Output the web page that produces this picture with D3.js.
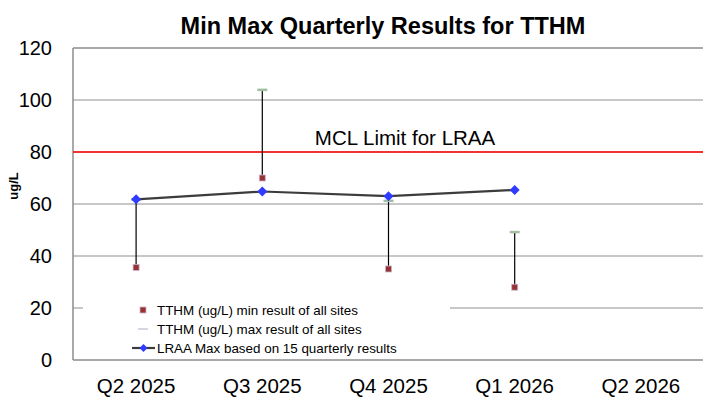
<!DOCTYPE html>
<html>
<head>
<meta charset="UTF-8">
<script src="https://cdn.jsdelivr.net/npm/d3@7.8.5/dist/d3.min.js"></script>
<style>
  * { margin: 0; padding: 0; }
  body { background: #fff; font-family: 'Liberation Sans', Arial, sans-serif; }
</style>
</head>
<body>
<div id="chart"></div>
<script>
// data
const quarters = ["Q2 2025", "Q3 2025", "Q4 2025", "Q1 2026", "Q2 2026"];
const minVals = [35.6, 70, 35, 28];
const maxVals = [61.8, 104, 61.3, 49.3];
const lraa = [61.8, 64.8, 63, 65.4];
const yTicks = [0, 20, 40, 60, 80, 100, 120];
const mcl = 80;

const width = 703, height = 400;
const margin = { top: 48, right: -1, bottom: 40, left: 73 };

const svg = d3.select('#chart').append('svg')
  .attr('width', width).attr('height', height);

const x = d3.scaleBand().domain(quarters)
  .range([margin.left, width - margin.right]);
const y = d3.scaleLinear().domain([0, 120])
  .range([height - margin.bottom, margin.top]);

// gridlines
svg.append('g').selectAll('line').data(yTicks.filter(d => d > 0))
  .enter().append('line')
  .attr('x1', margin.left).attr('x2', width - margin.right)
  .attr('y1', d => y(d)).attr('y2', d => y(d))
  .attr('stroke', d => d === 120 ? '#8c8c8c' : '#b4b4b4')
  .attr('stroke-width', 1.5);

// axes frame
svg.append('line')
  .attr('x1', margin.left).attr('x2', margin.left)
  .attr('y1', y(120)).attr('y2', y(0))
  .attr('stroke', '#8c8c8c').attr('stroke-width', 1.5);
svg.append('line')
  .attr('x1', margin.left).attr('x2', width)
  .attr('y1', y(0)).attr('y2', y(0))
  .attr('stroke', '#8c8c8c').attr('stroke-width', 1.5);

// y tick labels
svg.append('g').selectAll('text').data(yTicks).enter().append('text')
  .attr('x', 52).attr('y', d => y(d))
  .attr('text-anchor', 'end').attr('dominant-baseline', 'central')
  .style('font-size', '20px').style('fill', '#000')
  .text(d => d);

// x tick labels
svg.append('g').selectAll('text').data(quarters).enter().append('text')
  .attr('x', d => x(d) + x.bandwidth() / 2).attr('y', 393)
  .attr('text-anchor', 'middle')
  .style('font-size', '20.5px').style('fill', '#000')
  .text(d => d);

// y axis title
svg.append('text')
  .attr('transform', 'translate(18,186) rotate(-90)')
  .attr('text-anchor', 'middle')
  .style('font-size', '13px').style('font-weight', 'bold')
  .text('ug/L');

// title
svg.append('text')
  .attr('x', 383).attr('y', 34)
  .attr('text-anchor', 'middle')
  .style('font-size', '23.5px').style('font-weight', 'bold')
  .text('Min Max Quarterly Results for TTHM');

// MCL line
svg.append('line')
  .attr('x1', margin.left).attr('x2', width)
  .attr('y1', y(mcl)).attr('y2', y(mcl))
  .attr('stroke', '#ff0000').attr('stroke-width', 1.5);
svg.append('text')
  .attr('x', 405).attr('y', 145)
  .attr('text-anchor', 'middle')
  .style('font-size', '20.5px')
  .text('MCL Limit for LRAA');

const cx = i => x(quarters[i]) + x.bandwidth() / 2;

// legend box (covers 20 gridline)
const legend = svg.append('g');
legend.append('rect')
  .attr('x', 83).attr('y', 296).attr('width', 367).attr('height', 62)
  .attr('fill', '#fff');

// high-low lines
svg.append('g').selectAll('line').data(minVals).enter().append('line')
  .attr('x1', (d, i) => cx(i)).attr('x2', (d, i) => cx(i))
  .attr('y1', d => y(d)).attr('y2', (d, i) => y(maxVals[i]))
  .attr('stroke', '#000').attr('stroke-width', 1.2);

// max markers
svg.append('g').selectAll('rect').data(maxVals).enter().append('rect')
  .attr('x', (d, i) => cx(i) - 5).attr('y', d => y(d) - 1)
  .attr('width', 10).attr('height', 2.5)
  .attr('fill', '#a4bfa0');

// min markers
svg.append('g').selectAll('rect').data(minVals).enter().append('rect')
  .attr('x', (d, i) => cx(i) - 3).attr('y', d => y(d) - 3)
  .attr('width', 6).attr('height', 6)
  .attr('fill', '#993333').attr('stroke', '#c8b4d0').attr('stroke-width', 0.8);

// LRAA line
const line = d3.line().x((d, i) => cx(i)).y(d => y(d));
svg.append('path').datum(lraa)
  .attr('d', line).attr('fill', 'none')
  .attr('stroke', '#3c3c3c').attr('stroke-width', 2.2);

// Excel-style diamond, about as wide as it is tall
const diamond = 'M0,-5L5,0L0,5L-5,0Z';
svg.append('g').selectAll('path').data(lraa).enter().append('path')
  .attr('d', diamond)
  .attr('transform', (d, i) => `translate(${cx(i)},${y(d)})`)
  .attr('fill', '#2f3cff');

// legend items
const legY = [310, 329, 348];
legend.append('rect').attr('x', 140).attr('y', legY[0] - 3)
  .attr('width', 6).attr('height', 6).attr('fill', '#993333')
  .attr('stroke', '#c8b4d0').attr('stroke-width', 0.8);
legend.append('line').attr('x1', 138).attr('x2', 148)
  .attr('y1', legY[1]).attr('y2', legY[1])
  .attr('stroke', '#c8c8d8').attr('stroke-width', 1.5);
legend.append('line').attr('x1', 132).attr('x2', 155)
  .attr('y1', legY[2]).attr('y2', legY[2])
  .attr('stroke', '#3c3c3c').attr('stroke-width', 2.2);
legend.append('path').attr('d', 'M0,-4L4,0L0,4L-4,0Z')
  .attr('transform', `translate(143.5,${legY[2]})`).attr('fill', '#2f3cff');

const legText = [
  'TTHM (ug/L) min result of all sites',
  'TTHM (ug/L) max result of all sites',
  'LRAA Max based on 15 quarterly results'
];
legend.selectAll('text.lt').data(legText).enter().append('text')
  .attr('class', 'lt')
  .attr('x', 157).attr('y', (d, i) => legY[i])
  .attr('dominant-baseline', 'central')
  .style('font-size', '13.4px').style('fill', '#000')
  .text(d => d);
</script>
</body>
</html>
